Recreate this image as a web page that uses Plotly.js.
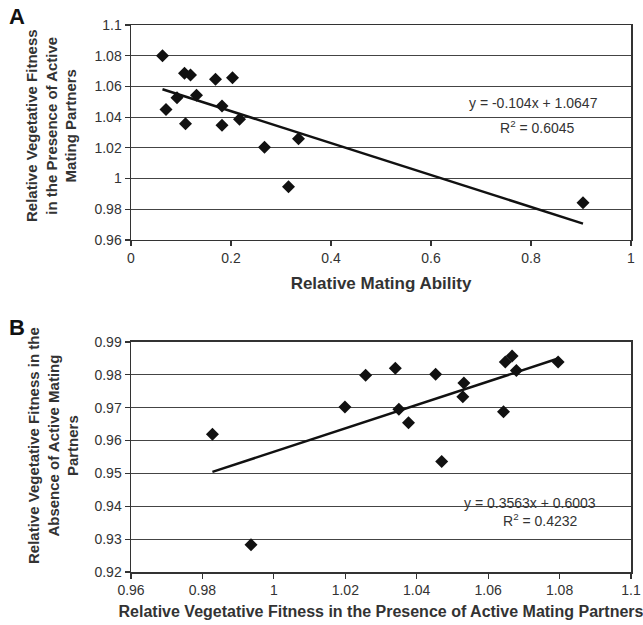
<!DOCTYPE html>
<html>
<head>
<meta charset="utf-8">
<script src="https://cdn.plot.ly/plotly-3.0.1.min.js"></script>
<style>html,body{margin:0;padding:0;background:#fff;}#chart{width:643px;height:625px;}</style>
</head>
<body>
<div id="chart"></div>
<script>
// Panel A: relative mating ability vs. relative vegetative fitness (presence of partners)
const matingAbility = [0.063, 0.070, 0.092, 0.107, 0.119, 0.109, 0.131, 0.169, 0.203, 0.182, 0.182, 0.217, 0.267, 0.335, 0.315, 0.904];
const fitnessPresenceA = [1.080, 1.045, 1.0527, 1.0685, 1.0674, 1.0357, 1.0542, 1.0646, 1.0657, 1.0473, 1.0347, 1.0386, 1.0204, 1.026, 0.9947, 0.9843];
const trendA_x = [0.063, 0.904];
const trendA_y = [-0.104 * 0.063 + 1.0647, -0.104 * 0.904 + 1.0647];

// Panel B: fitness presence vs. fitness absence of active mating partners
const fitnessPresenceB = [0.9828, 1.0199, 1.0257, 1.034, 1.035, 1.0377, 1.0453, 1.047, 1.0532, 1.0529, 1.0643, 1.0648, 1.0667, 1.0679, 1.0796, 0.9936];
const fitnessAbsenceB = [0.9619, 0.9702, 0.9799, 0.982, 0.9695, 0.9654, 0.9802, 0.9536, 0.9775, 0.9733, 0.9688, 0.9839, 0.9857, 0.9813, 0.9839, 0.9283];
const trendB_x = [0.9828, 1.0796];
const trendB_y = [0.3563 * 0.9828 + 0.6003, 0.3563 * 1.0796 + 0.6003];

const tickValsAx = [0, 0.2, 0.4, 0.6, 0.8, 1];
const tickTextAx = ['0', '0.2', '0.4', '0.6', '0.8', '1'];
const tickValsAy = [0.96, 0.98, 1, 1.02, 1.04, 1.06, 1.08, 1.1];
const tickTextAy = ['0.96', '0.98', '1', '1.02', '1.04', '1.06', '1.08', '1.1'];
const tickValsBx = [0.96, 0.98, 1, 1.02, 1.04, 1.06, 1.08, 1.1];
const tickTextBx = ['0.96', '0.98', '1', '1.02', '1.04', '1.06', '1.08', '1.1'];
const tickValsBy = [0.92, 0.93, 0.94, 0.95, 0.96, 0.97, 0.98, 0.99];
const tickTextBy = ['0.92', '0.93', '0.94', '0.95', '0.96', '0.97', '0.98', '0.99'];

const FONT = 'Liberation Sans, Arial, sans-serif';
const marker = {symbol: 'diamond', size: 10, color: '#111'};
const line = {color: '#111', width: 2.5};

const traces = [
  {x: matingAbility, y: fitnessPresenceA, mode: 'markers', type: 'scatter', marker: marker, xaxis: 'x', yaxis: 'y', hoverinfo: 'none'},
  {x: trendA_x, y: trendA_y, mode: 'lines', type: 'scatter', line: line, xaxis: 'x', yaxis: 'y', hoverinfo: 'none'},
  {x: fitnessPresenceB, y: fitnessAbsenceB, mode: 'markers', type: 'scatter', marker: marker, xaxis: 'x2', yaxis: 'y2', hoverinfo: 'none'},
  {x: trendB_x, y: trendB_y, mode: 'lines', type: 'scatter', line: line, xaxis: 'x2', yaxis: 'y2', hoverinfo: 'none'}
];

const axCommon = {
  showline: true, linecolor: '#333', linewidth: 1.5, mirror: true,
  ticks: 'outside', ticklen: 5, tickcolor: '#333', tickwidth: 1.2,
  tickfont: {family: FONT, size: 14, color: '#333'},
  zeroline: false, tickmode: 'array'
};

// plot area in pixels: left 131, width 500; bottom 572, height 547
const px = v => (v - 131) / 500;
const py = v => (572 - v) / 547;

const annFont = {family: FONT, size: 14, color: '#333'};

const layout = {
  width: 643, height: 625,
  margin: {l: 131, r: 12, t: 25, b: 53},
  paper_bgcolor: '#fff', plot_bgcolor: '#fff',
  showlegend: false,
  font: {family: FONT, color: '#333'},
  xaxis: Object.assign({}, axCommon, {
    domain: [0, 1], anchor: 'y', range: [0, 1],
    tickvals: tickValsAx, ticktext: tickTextAx, showgrid: false,
    title: {text: 'Relative Mating Ability', font: {family: FONT, size: 17, color: '#333', weight: 'bold'}, standoff: 12}
  }),
  yaxis: Object.assign({}, axCommon, {
    domain: [0.607, 1], anchor: 'x', range: [0.96, 1.1],
    tickvals: tickValsAy, ticktext: tickTextAy,
    showgrid: true, gridcolor: '#444', gridwidth: 1
  }),
  xaxis2: Object.assign({}, axCommon, {
    domain: [0, 1], anchor: 'y2', range: [0.96, 1.1],
    tickvals: tickValsBx, ticktext: tickTextBx, showgrid: false,
    title: {text: 'Relative Vegetative Fitness in the Presence of Active Mating Partners', font: {family: FONT, size: 16, color: '#333', weight: 'bold'}, standoff: 8}
  }),
  yaxis2: Object.assign({}, axCommon, {
    domain: [0, 0.4205], anchor: 'x2', range: [0.92, 0.99],
    tickvals: tickValsBy, ticktext: tickTextBy,
    showgrid: true, gridcolor: '#444', gridwidth: 1
  }),
  annotations: [
    {xref: 'paper', yref: 'paper', x: px(17), y: py(17), text: '<b>A</b>', showarrow: false,
     font: {family: FONT, size: 22, color: '#111'}, xanchor: 'center', yanchor: 'middle'},
    {xref: 'paper', yref: 'paper', x: px(17), y: py(327), text: '<b>B</b>', showarrow: false,
     font: {family: FONT, size: 22, color: '#111'}, xanchor: 'center', yanchor: 'middle'},
    {xref: 'paper', yref: 'paper', x: px(51), y: py(126), textangle: -90, showarrow: false,
     text: '<b>Relative Vegetative Fitness<br>in the Presence of Active<br>Mating Partners</b>',
     font: {family: FONT, size: 15, color: '#333'}, xanchor: 'center', yanchor: 'middle'},
    {xref: 'paper', yref: 'paper', x: px(53), y: py(446), textangle: -90, showarrow: false,
     text: '<b>Relative Vegetative Fitness in the<br>Absence of Active Mating<br>Partners</b>',
     font: {family: FONT, size: 15, color: '#333'}, xanchor: 'center', yanchor: 'middle'},
    {xref: 'paper', yref: 'paper', x: px(533), y: py(103), text: 'y = -0.104x + 1.0647', showarrow: false,
     font: annFont, xanchor: 'center', yanchor: 'middle'},
    {xref: 'paper', yref: 'paper', x: px(537), y: py(127), text: 'R<sup>2</sup> = 0.6045', showarrow: false,
     font: annFont, xanchor: 'center', yanchor: 'middle'},
    {xref: 'paper', yref: 'paper', x: px(530), y: py(503), text: 'y = 0.3563x + 0.6003', showarrow: false,
     font: annFont, xanchor: 'center', yanchor: 'middle'},
    {xref: 'paper', yref: 'paper', x: px(540), y: py(520), text: 'R<sup>2</sup> = 0.4232', showarrow: false,
     font: annFont, xanchor: 'center', yanchor: 'middle'}
  ]
};

Plotly.newPlot('chart', traces, layout, {staticPlot: true, displayModeBar: false});
</script>
</body>
</html>
